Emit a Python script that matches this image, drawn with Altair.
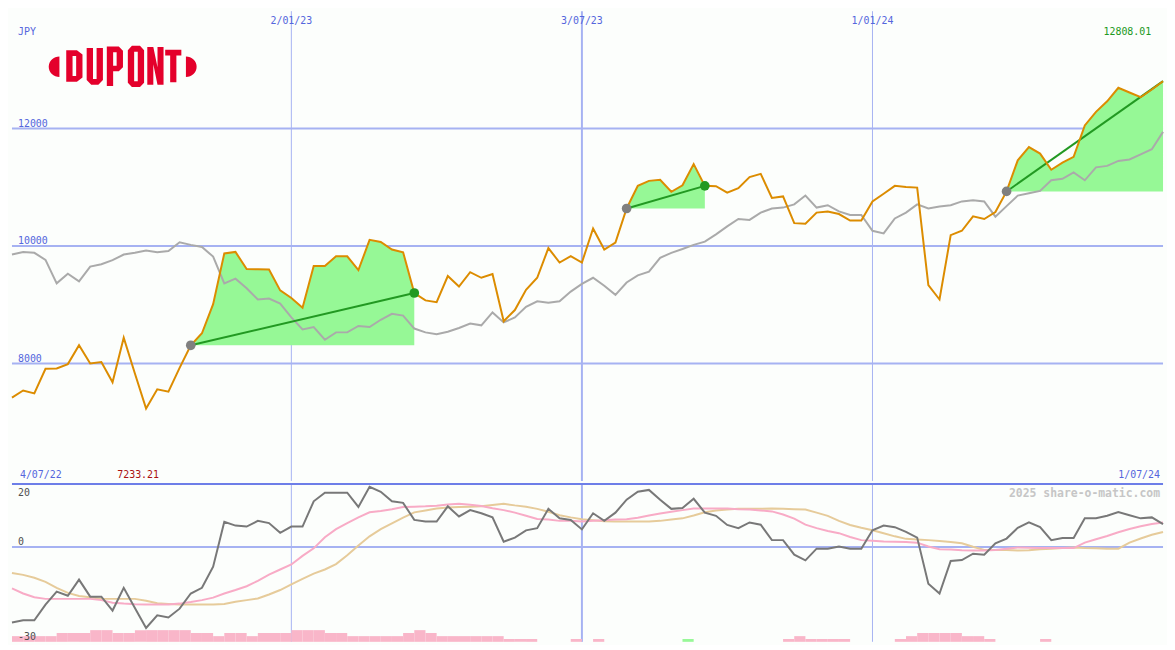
import math
import altair as alt
import pandas as pd

# ---------------- data ----------------
currency = "JPY"
credit = "2025 share-o-matic.com"
window_start_label = "4/07/22"
window_end_label = "1/07/24"
first_week = "2022-07-11"

price = [7420, 7540, 7490, 7910, 7915, 7990, 8310, 8000, 8025, 7680,
         8440, 7830, 7233.21, 7560, 7520, 7925, 8310, 8515, 9010, 9875,
         9900, 9610, 9605, 9600, 9245, 9115, 8950, 9660, 9660, 9825,
         9825, 9590, 10105, 10070, 9940, 9895, 9200, 9075, 9045, 9490,
         9310, 9555, 9460, 9525, 8720, 8910, 9255, 9460, 9965, 9720,
         9830, 9720, 10300, 9940, 10060, 10640, 11025, 11110, 11130, 10925,
         11035, 11395, 11025, 11020, 10910, 10985, 11175, 11230, 10820, 10845,
         10390, 10380, 10570, 10590, 10545, 10435, 10435, 10760, 10890, 11025,
         11005, 10995, 9335, 9090, 10185, 10260, 10505, 10460, 10580, 10930,
         11460, 11685, 11575, 11300, 11420, 11520, 12055, 12285, 12465, 12695,
         12615, 12535, 12665, 12808.01]

average = [9855, 9900, 9885, 9765, 9365, 9530, 9400, 9650, 9690, 9760,
           9855, 9885, 9925, 9895, 9915, 10065, 10020, 9985, 9820, 9365,
           9445, 9280, 9090, 9105, 9020, 8785, 8580, 8620, 8405, 8530,
           8530, 8640, 8620, 8745, 8845, 8815, 8595, 8530, 8500, 8540,
           8605, 8680, 8650, 8870, 8700, 8785, 8965, 9060, 9035, 9060,
           9225, 9355, 9460, 9325, 9170, 9380, 9500, 9565, 9800, 9885,
           9950, 10020, 10075, 10200, 10335, 10460, 10445, 10570, 10640, 10655,
           10710, 10860, 10655, 10695, 10590, 10530, 10530, 10260, 10215, 10470,
           10570, 10710, 10640, 10675, 10695, 10760, 10780, 10760, 10500, 10680,
           10860, 10900, 10940, 11120, 11145, 11255, 11120, 11340, 11365, 11450,
           11475, 11560, 11650, 11945]

oscillator = [-23.9, -23.2, -23.2, -18.2, -14.1, -15.4, -10.3, -15.7, -15.7, -20.1,
              -12.9, -19.3, -25.6, -21.6, -22.3, -19.5, -14.7, -12.9, -6.2, 8.0,
              6.8, 6.5, 8.3, 7.6, 4.5, 6.5, 6.5, 14.5, 17.2, 17.2,
              17.2, 12.7, 19.1, 17.5, 14.5, 14.0, 8.6, 8.1, 8.1, 12.9,
              9.7, 11.7, 10.7, 9.4, 1.7, 3.0, 5.3, 6.0, 12.1, 9.1,
              8.6, 5.6, 10.7, 8.3, 10.9, 15.0, 17.5, 18.1, 15.0, 12.1,
              12.4, 15.3, 10.9, 9.9, 7.0, 6.0, 7.8, 7.1, 2.2, 2.2,
              -2.4, -4.2, -0.5, -0.5, 0.2, -0.5, -0.5, 5.3, 6.8, 6.3,
              4.8, 3.0, -11.6, -14.7, -4.4, -4.1, -2.1, -2.4, 1.2, 2.7,
              6.1, 7.8, 6.3, 2.2, 2.9, 2.9, 9.1, 9.1, 9.9, 11.1,
              10.1, 9.1, 9.4, 7.3]

signal_fast = [-13.1, -14.7, -15.9, -16.4, -16.4, -16.4, -16.4, -16.4, -16.8, -17.6,
               -17.9, -18.1, -18.2, -18.2, -18.2, -17.9, -17.4, -16.8, -16.0, -14.7,
               -13.6, -12.4, -10.7, -8.7, -7.1, -5.5, -2.8, -0.4, 3.1, 5.7,
               7.6, 9.4, 11.0, 11.4, 12.0, 12.7, 12.8, 12.9, 13.1, 13.5,
               13.7, 13.4, 13.0, 12.3, 11.7, 10.9, 9.9, 8.9, 8.7, 8.3,
               8.3, 8.1, 8.3, 8.5, 8.7, 8.8, 9.3, 10.0, 10.6, 11.2,
               11.7, 12.2, 12.2, 12.2, 12.2, 12.0, 11.9, 11.6, 11.3, 10.3,
               9.0, 7.1, 6.0, 5.1, 4.4, 3.2, 2.2, 2.0, 1.8, 1.7,
               1.6, 1.4, 0.2, -0.7, -0.8, -1.0, -1.1, -1.1, -0.9, -0.5,
               -0.1, -0.2, -0.3, -0.3, -0.3, -0.3, 1.4, 2.5, 3.5, 4.7,
               5.7, 6.6, 7.3, 7.8]

signal_slow = [-8.2, -8.8, -9.7, -11.0, -12.9, -14.5, -15.5, -15.9, -16.4, -16.4,
               -16.4, -16.4, -17.0, -17.8, -18.0, -18.2, -18.2, -18.2, -18.2, -18.0,
               -17.3, -16.8, -16.3, -15.0, -13.6, -11.8, -10.1, -8.4, -7.1, -5.4,
               -2.6, 0.5, 3.4, 5.7, 7.5, 9.3, 11.0, 11.6, 12.2, 12.5,
               12.7, 12.8, 12.9, 13.3, 13.7, 13.2, 12.8, 12.1, 11.2, 10.1,
               9.4, 8.8, 8.5, 8.2, 8.1, 8.1, 8.1, 8.1, 8.3, 8.7,
               9.1, 10.0, 11.0, 11.6, 11.9, 12.1, 12.1, 12.1, 12.2, 12.1,
               12.0, 11.9, 10.9, 9.9, 8.3, 7.0, 6.1, 5.3, 4.4, 3.4,
               2.6, 2.4, 2.2, 1.9, 1.6, 1.2, 0.1, -0.9, -0.9, -0.9,
               -1.1, -1.0, -0.7, -0.5, -0.3, -0.1, -0.3, -0.4, -0.5, -0.5,
               1.4, 2.7, 3.9, 4.8]

N = None
hist_top = [-28.2, -28.2, -28.2, -28.2, -27.2, -27.2, -27.2, -26.3, -26.3, -27.2,
            -27.2, -26.3, -26.3, -26.3, -26.3, -26.3, -27.2, -27.2, -28.2, -27.2,
            -27.2, -28.2, -27.2, -27.2, -27.2, -26.3, -26.3, -26.3, -27.2, -27.2,
            -28.2, -28.2, -28.2, -28.2, -28.2, -27.2, -26.3, -27.2, -28.2, -28.2,
            -28.2, -28.2, -28.2, -28.2, -29.1, -29.1, -29.1, N, N, N,
            -29.1, N, -29.1, N, N, N, N, N, N, N,
            -29.1, N, N, N, N, N, N, N, N, -29.1,
            -28.2, -29.1, -29.1, -29.1, -29.1, N, N, N, N, -29.1,
            -28.2, -27.2, -27.2, -27.2, -27.2, -28.2, -28.2, -29.1, N, N,
            N, N, -29.1, N, N, N, N, N, N, N,
            N, N, N, N]
hist_up_weeks = [60]

grid_dates = ["2023-01-02", "2023-07-03", "2024-01-01"]
grid_labels = ["2/01/23", "3/07/23", "1/01/24"]
grid_widths = [1, 2, 1]
price_ticks = [12000, 10000, 8000]
osc_ticks = [20, 0, -30]
region_start = [16, 55, 89]
region_end = [36, 62, 103]
region_end_dot = [True, True, False]

# ---------------- layout / style ----------------
W, HT, HB = 1159, 473, 159
FONT = "DejaVu Sans Mono"
BLUE_TXT = "#5566dd"
GRID = "#a6b2f2"
SEP = "#6d7ee8"
BG = "#fcfefc"
SX = W / 1175.0
SY = HT / 486.0

n = len(price)
weeks = pd.date_range(first_week, periods=n, freq="7D")
start = weeks[0]
df = pd.DataFrame({
    "k": list(range(n)),
    "date": weeks.strftime("%Y-%m-%d"),
    "price": price, "avg": average,
    "osc": oscillator, "fast": signal_fast, "slow": signal_slow,
})

grid_df = pd.DataFrame({
    "k": [(pd.Timestamp(d) - start).days / 7 for d in grid_dates],
    "label": grid_labels, "w": grid_widths,
})

area_rows, trend_rows, dot_rows = [], [], []
for r, (s, e) in enumerate(zip(region_start, region_end)):
    for k in range(s, e + 1):
        area_rows.append({"k": k, "price": price[k], "base": price[s], "region": r})
    trend_rows.append({"ks": s, "ps": price[s], "ke": e, "pe": price[e]})
    dot_rows.append({"k": s, "p": price[s], "c": "#808080"})
    if region_end_dot[r]:
        dot_rows.append({"k": e, "p": price[e], "c": "#229922"})
area_df = pd.DataFrame(area_rows)
trend_df = pd.DataFrame(trend_rows)
dot_df = pd.DataFrame(dot_rows)

bar_df = pd.DataFrame([
    {"k": k, "k2": k + 1, "top": t, "base": -30,
     "c": "#98f898" if k in hist_up_weeks else "#f9b6c9"}
    for k, t in enumerate(hist_top) if t is not None
])

xs = alt.Scale(domain=[0, n - 1], nice=False, zero=False)
yt = alt.Scale(domain=[6000, 14000], nice=False, zero=False)
yb = alt.Scale(domain=[-30, 20], nice=False, zero=False)
X = alt.X("k:Q", scale=xs, axis=None)


def label(text, x, y, color, align="left", size=10, weight="normal"):
    return alt.Chart(pd.DataFrame({"t": [text]})).mark_text(
        font=FONT, fontSize=size, fontWeight=weight, color=color,
        align=align, baseline="alphabetic"
    ).encode(x=alt.value(x), y=alt.value(y), text="t:N")


# ---------------- logo (DuPont) as a custom symbol ----------------
LCX, LCY, LR = 113.5, 57.3, 76.5
polys = [
    [(55, 40.5), (66, 40.5), (71.7, 45), (71.7, 68.5), (66, 73), (55, 73)],
    [(61.5, 46.5), (61.5, 67), (65.2, 67), (65.2, 46.5)],
    [(76, 38.3), (82.5, 38.3), (82.5, 70), (86.2, 70), (86.2, 38.3), (92.7, 38.3),
     (92.7, 71), (88, 76), (80.7, 76), (76, 71)],
    [(96.7, 36.7), (109, 36.7), (113.3, 41), (113.3, 58), (109, 62), (103.2, 62),
     (103.2, 77.3), (96.7, 77.3)],
    [(103.2, 42.5), (103.2, 56.5), (106.8, 56.5), (106.8, 42.5)],
    [(122.5, 36), (130.8, 36), (135, 40.5), (135, 74), (130.8, 78.3), (122.5, 78.3),
     (118.3, 74), (118.3, 40.5)],
    [(124.8, 42), (124.8, 72.3), (128.5, 72.3), (128.5, 42)],
    [(138.3, 37.3), (144.5, 37.3), (148.8, 58), (148.8, 37.3), (155, 37.3), (155, 76),
     (148.8, 76), (144.5, 55), (144.5, 76), (138.3, 76)],
    [(156.7, 40), (173.3, 40), (173.3, 46), (168.2, 46), (168.2, 73.3), (161.8, 73.3),
     (161.8, 46), (156.7, 46)],
    [(48 - 11 * math.sin(a * math.pi / 16), 57.5 - 10.5 * math.cos(a * math.pi / 16)) for a in range(17)],
    [(178 + 11 * math.sin(a * math.pi / 16), 57.5 - 10.5 * math.cos(a * math.pi / 16)) for a in range(17)],
]
logo_path = " ".join(
    "M" + " L".join(f"{(x - LCX) / LR:.4f},{(y - LCY) / LR:.4f}" for x, y in p) + " Z"
    for p in polys
)
sc = (SX + SY) / 2
logo = alt.Chart(pd.DataFrame({"a": [1]})).mark_point(
    shape=logo_path, filled=True, color="#e4002b", opacity=1, strokeWidth=0,
    size=(2 * LR * sc) ** 2
).encode(x=alt.value(LCX * SX), y=alt.value(LCY * SY))

# ---------------- top panel ----------------
vgrid = alt.Chart(grid_df).mark_rule(color=GRID).encode(
    x=X, strokeWidth=alt.StrokeWidth("w:Q", scale=None, legend=None))
hgrid = alt.Chart(pd.DataFrame({"v": price_ticks})).mark_rule(color=GRID, strokeWidth=2).encode(
    y=alt.Y("v:Q", scale=yt, axis=None))
areas = alt.Chart(area_df).mark_area(color="#96f896", opacity=1).encode(
    x=X, y=alt.Y("price:Q", scale=yt, axis=None), y2="base:Q", detail="region:N")
avg_line = alt.Chart(df).mark_line(color="#aaaaaa", strokeWidth=2).encode(
    x=X, y=alt.Y("avg:Q", scale=yt, axis=None))
trends = alt.Chart(trend_df).mark_rule(color="#229922", strokeWidth=2).encode(
    x=alt.X("ks:Q", scale=xs, axis=None), y=alt.Y("ps:Q", scale=yt, axis=None),
    x2="ke:Q", y2="pe:Q")
price_line = alt.Chart(df).mark_line(color="#dc8c00", strokeWidth=2).encode(
    x=X, y=alt.Y("price:Q", scale=yt, axis=None))
dots = alt.Chart(dot_df).mark_circle(size=95, opacity=1).encode(
    x=X, y=alt.Y("p:Q", scale=yt, axis=None), color=alt.Color("c:N", scale=None))

date_txt = alt.Chart(grid_df).mark_text(
    font=FONT, fontSize=10, color=BLUE_TXT, align="center", baseline="alphabetic"
).encode(x=X, y=alt.value(12.8 * SY), text="label:N")
ptick_txt = alt.Chart(pd.DataFrame({"v": price_ticks, "t": [str(v) for v in price_ticks]})).mark_text(
    font=FONT, fontSize=10, color=BLUE_TXT, align="left", baseline="alphabetic", dy=-2
).encode(x=alt.value(6), y=alt.Y("v:Q", scale=yt, axis=None), text="t:N")

pmax, pmin = max(price), min(price)
kmin = price.index(pmin)
min_txt = alt.Chart(pd.DataFrame({"k": [kmin], "t": [f"{pmin:.2f}"]})).mark_text(
    font=FONT, fontSize=10, color="#aa1111", align="center", baseline="alphabetic", dx=-8
).encode(x=X, y=alt.value(483 * SY), text="t:N")

top = alt.layer(
    vgrid, hgrid, areas, avg_line, trends, price_line, dots,
    date_txt, ptick_txt,
    label(currency, 6, 25 * SY, BLUE_TXT),
    label(f"{pmax:.2f}", 1163 * SX, 25 * SY, "#229922", align="right"),
    label(window_start_label, 8, 483 * SY, BLUE_TXT),
    label(window_end_label, W - 3, 483 * SY, BLUE_TXT, align="right"),
    min_txt, logo,
).properties(width=W, height=HT)

# ---------------- bottom panel ----------------
Yb = lambda f: alt.Y(f, scale=yb, axis=None)
vgrid_b = alt.Chart(grid_df).mark_rule(color=GRID).encode(
    x=X, strokeWidth=alt.StrokeWidth("w:Q", scale=None, legend=None))
zero_b = alt.Chart(pd.DataFrame({"v": [0]})).mark_rule(color=GRID, strokeWidth=2).encode(y=Yb("v:Q"))
sep_b = alt.Chart(pd.DataFrame({"v": [20]})).mark_rule(color=SEP, strokeWidth=2).encode(y=Yb("v:Q"))
bars = alt.Chart(bar_df).mark_rect(opacity=1).encode(
    x=X, x2="k2:Q", y=Yb("top:Q"), y2="base:Q", color=alt.Color("c:N", scale=None))
slow_l = alt.Chart(df).mark_line(color="#e6cb9a", strokeWidth=2).encode(x=X, y=Yb("slow:Q"))
fast_l = alt.Chart(df).mark_line(color="#f8abc6", strokeWidth=2).encode(x=X, y=Yb("fast:Q"))
osc_l = alt.Chart(df).mark_line(color="#787878", strokeWidth=2).encode(x=X, y=Yb("osc:Q"))

otick = pd.DataFrame({"v": osc_ticks, "t": [str(v) for v in osc_ticks]})
otick_top = alt.Chart(otick[otick.v == max(osc_ticks)]).mark_text(
    font=FONT, fontSize=10, color="#505050", align="left", baseline="alphabetic", dy=12
).encode(x=alt.value(6), y=Yb("v:Q"), text="t:N")
otick_rest = alt.Chart(otick[otick.v != max(osc_ticks)]).mark_text(
    font=FONT, fontSize=10, color="#505050", align="left", baseline="alphabetic", dy=-2
).encode(x=alt.value(6), y=Yb("v:Q"), text="t:N")

bottom = alt.layer(
    vgrid_b, zero_b, bars, slow_l, fast_l, osc_l, sep_b, otick_top, otick_rest,
    label(credit, W - 3, 12.8, "#c6c6c6", align="right", size=11.5, weight="bold"),
).properties(width=W, height=HB)

chart = alt.vconcat(top, bottom, spacing=0).properties(
    padding={"left": 0, "right": 0, "top": 0, "bottom": 0}, background=BG
).configure(padding=0).configure_view(strokeWidth=0)

chart.save("out.html", embed_options={"renderer": "svg", "actions": False})
